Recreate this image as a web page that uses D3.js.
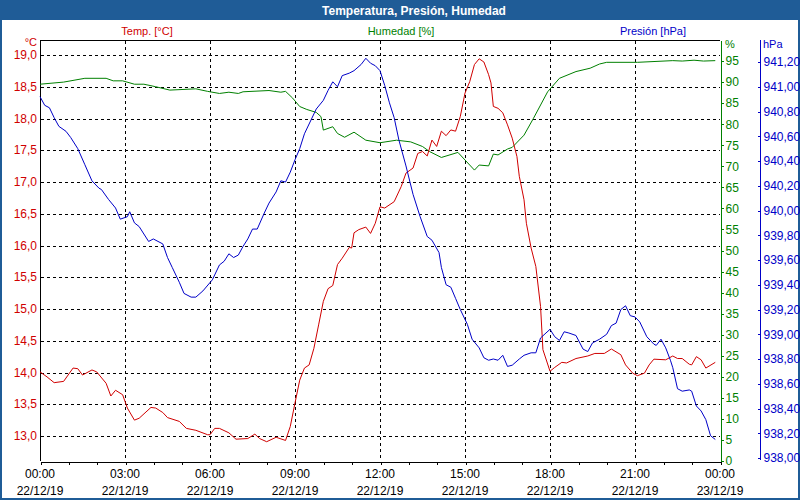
<!DOCTYPE html>
<html>
<head>
<meta charset="utf-8">
<script src="https://cdn.jsdelivr.net/npm/d3@7"></script>
<style>
  body { margin: 0; background: #fff; }
  svg { display: block; font-family: 'Liberation Sans', Arial, sans-serif; }
</style>
</head>
<body>
<svg id="canvas" width="800" height="500"></svg>
<script>
// minutes since 00:00 22/12/19
let tempMin = [0, 15, 30, 50, 70, 80, 90, 110, 120, 140, 150, 160, 175, 185, 200, 210, 235, 245, 260, 270, 295, 310, 330, 355, 360, 370, 380, 400, 415, 440, 455, 465, 480, 500, 520, 530, 540, 550, 560, 570, 580, 590, 600, 610, 620, 630, 640, 655, 660, 665, 675, 690, 700, 710, 720, 730, 750, 765, 775, 790, 800, 810, 820, 830, 840, 850, 860, 870, 880, 890, 900, 910, 920, 930, 940, 950, 955, 960, 970, 980, 990, 1000, 1010, 1015, 1025, 1030, 1040, 1050, 1060, 1065, 1080, 1090, 1105, 1115, 1135, 1160, 1175, 1195, 1210, 1230, 1240, 1255, 1265, 1280, 1290, 1300, 1325, 1340, 1350, 1360, 1375, 1380, 1390, 1400, 1410, 1430]
let tempVal = [14.01, 13.93, 13.84, 13.86, 14.07, 14.06, 13.96, 14.04, 14.01, 13.83, 13.63, 13.72, 13.65, 13.44, 13.25, 13.28, 13.45, 13.44, 13.37, 13.29, 13.23, 13.12, 13.09, 13.02, 13.02, 13.12, 13.12, 13.05, 12.95, 12.96, 13.03, 12.96, 12.91, 12.98, 12.93, 13.15, 13.52, 13.88, 14.07, 14.12, 14.38, 14.75, 15.12, 15.32, 15.37, 15.70, 15.80, 15.97, 15.96, 16.20, 16.25, 16.29, 16.19, 16.35, 16.61, 16.59, 16.69, 16.93, 17.14, 17.22, 17.45, 17.48, 17.41, 17.66, 17.56, 17.80, 17.73, 17.82, 17.80, 18.03, 18.40, 18.58, 18.85, 18.94, 18.89, 18.69, 18.56, 18.19, 18.16, 18.09, 17.90, 17.69, 17.40, 17.09, 16.72, 16.35, 15.96, 15.67, 15.04, 14.36, 14.02, 14.08, 14.16, 14.15, 14.22, 14.26, 14.30, 14.30, 14.37, 14.28, 14.12, 13.99, 13.95, 13.99, 14.12, 14.21, 14.20, 14.26, 14.22, 14.22, 14.13, 14.12, 14.25, 14.20, 14.07, 14.16]

let humMin = [0, 50, 95, 140, 155, 175, 200, 220, 245, 275, 330, 355, 380, 400, 420, 430, 485, 510, 520, 535, 550, 565, 585, 595, 600, 620, 630, 645, 665, 690, 720, 755, 785, 810, 825, 850, 885, 900, 920, 930, 950, 960, 970, 990, 1000, 1025, 1045, 1075, 1100, 1135, 1165, 1185, 1200, 1265, 1340, 1360, 1385, 1405, 1430]
let humVal = [89.5, 90.0, 90.9, 90.9, 90.3, 90.3, 89.5, 89.5, 88.9, 88.1, 88.4, 87.8, 87.3, 87.6, 87.3, 87.7, 88.0, 87.6, 87.8, 86.2, 84.2, 83.5, 82.8, 81.8, 78.6, 79.4, 77.8, 76.9, 78.1, 76.2, 75.6, 76.2, 75.8, 74.7, 73.5, 72.1, 73.3, 71.5, 69.1, 70.3, 70.1, 72.9, 72.7, 74.1, 74.5, 77.4, 81.4, 87.7, 90.9, 92.5, 93.3, 94.3, 94.7, 94.7, 95.1, 95.0, 95.2, 95.0, 95.1]

let presMin = [0, 10, 20, 30, 40, 55, 65, 80, 95, 110, 125, 130, 145, 160, 170, 185, 190, 200, 210, 220, 230, 240, 260, 270, 280, 295, 305, 320, 330, 345, 365, 380, 390, 400, 410, 420, 430, 440, 450, 460, 475, 485, 500, 510, 520, 530, 540, 550, 560, 575, 585, 600, 610, 620, 630, 640, 655, 665, 680, 690, 700, 710, 720, 730, 740, 750, 760, 775, 790, 805, 820, 830, 845, 850, 860, 870, 880, 890, 905, 915, 930, 940, 950, 960, 970, 980, 990, 1000, 1015, 1025, 1040, 1050, 1060, 1080, 1090, 1100, 1110, 1120, 1135, 1150, 1160, 1170, 1185, 1200, 1210, 1220, 1230, 1240, 1250, 1260, 1270, 1285, 1300, 1305, 1315, 1325, 1335, 1340, 1350, 1360, 1375, 1380, 1390, 1400, 1410, 1420, 1430]
let presVal = [940.92, 940.85, 940.83, 940.75, 940.68, 940.64, 940.59, 940.50, 940.37, 940.24, 940.18, 940.17, 940.09, 940.02, 939.93, 939.95, 939.99, 939.90, 939.87, 939.81, 939.75, 939.77, 939.73, 939.62, 939.54, 939.42, 939.33, 939.30, 939.30, 939.35, 939.44, 939.56, 939.59, 939.65, 939.62, 939.64, 939.71, 939.77, 939.85, 939.85, 939.98, 940.06, 940.15, 940.24, 940.23, 940.31, 940.41, 940.50, 940.62, 940.74, 940.82, 940.89, 940.97, 941.04, 941.00, 941.09, 941.11, 941.13, 941.18, 941.23, 941.19, 941.17, 941.13, 941.01, 940.87, 940.75, 940.57, 940.36, 940.13, 939.95, 939.79, 939.76, 939.66, 939.54, 939.40, 939.38, 939.29, 939.20, 939.08, 938.96, 938.89, 938.81, 938.79, 938.80, 938.79, 938.83, 938.74, 938.75, 938.80, 938.83, 938.85, 938.85, 938.97, 939.04, 938.98, 938.95, 939.02, 939.01, 938.99, 938.88, 938.86, 938.93, 938.96, 939.00, 939.07, 939.09, 939.20, 939.23, 939.15, 939.14, 939.10, 938.98, 938.92, 938.91, 938.96, 938.89, 938.79, 938.73, 938.56, 938.54, 938.55, 938.54, 938.42, 938.38, 938.31, 938.18, 938.15]

let tempTicks = [13, 13.5, 14, 14.5, 15, 15.5, 16, 16.5, 17, 17.5, 18, 18.5, 19]
let humTicks = [0, 5, 10, 15, 20, 25, 30, 35, 40, 45, 50, 55, 60, 65, 70, 75, 80, 85, 90, 95]
let presTicks = [938, 938.2, 938.4, 938.6, 938.8, 939, 939.2, 939.4, 939.6, 939.8, 940, 940.2, 940.4, 940.6, 940.8, 941, 941.2]
let hourLabels = ['00:00', '03:00', '06:00', '09:00', '12:00', '15:00', '18:00', '21:00', '00:00']
let dateLabels = ['22/12/19', '22/12/19', '22/12/19', '22/12/19', '22/12/19', '22/12/19', '22/12/19', '22/12/19', '23/12/19']

let frameBlue = '#1f5c97'
let red = '#d00000'
let green = '#008000'
let blue = '#0000c8'

let svg = d3.select('#canvas')

let x = d3.scaleLinear().domain([0, 1440]).range([40, 720])
let yT = d3.scaleLinear().domain([13, 19]).range([436, 55])
let yH = d3.scaleLinear().domain([0, 100]).range([461, 40])
let yP = d3.scaleLinear().domain([938, 941.2]).range([458, 62])

let comma = (f) => (v) => d3.format(f)(v).replace('.', ',')
let crisp = (v) => Math.round(v) + 0.5

// frame + title
svg.append('rect').attr('x', 0).attr('y', 0).attr('width', 800).attr('height', 500).attr('fill', '#fff')
svg.append('rect').attr('x', 0).attr('y', 0).attr('width', 800).attr('height', 20).attr('fill', frameBlue)
svg.append('rect').attr('x', 1).attr('y', 1).attr('width', 798).attr('height', 498)
    .attr('fill', 'none').attr('stroke', frameBlue).attr('stroke-width', 2)
svg.append('text').text('Temperatura, Presión, Humedad')
    .attr('x', 414).attr('y', 15).attr('text-anchor', 'middle')
    .attr('fill', '#fff').style('font-weight', 'bold').style('font-size', '12px')

let heads = [['Temp. [°C]', 147, red], ['Humedad [%]', 401, green], ['Presión [hPa]', 653, blue]]
heads.forEach((h) => {
    svg.append('text').text(h[0]).attr('x', h[1]).attr('y', 35)
        .attr('text-anchor', 'middle').attr('fill', h[2]).style('font-size', '11px')
})
svg.append('text').text('°C').attr('x', 37).attr('y', 46).attr('text-anchor', 'end').attr('fill', red).style('font-size', '11px')
svg.append('text').text('%').attr('x', 725).attr('y', 48).attr('fill', green).style('font-size', '11px')
svg.append('text').text('hPa').attr('x', 763).attr('y', 48).attr('fill', blue).style('font-size', '11px')

// grid
let grid = svg.append('g').attr('stroke', '#000').attr('stroke-dasharray', '3,3').attr('shape-rendering', 'crispEdges')
grid.selectAll('.h').data(tempTicks).enter().append('line')
    .attr('x1', 41).attr('x2', 720)
    .attr('y1', (d) => crisp(yT(d))).attr('y2', (d) => crisp(yT(d)))
grid.selectAll('.v').data([180, 360, 540, 720, 900, 1080, 1260]).enter().append('line')
    .attr('y1', 41).attr('y2', 461)
    .attr('x1', (d) => crisp(x(d))).attr('x2', (d) => crisp(x(d)))

// frame lines of plot
let box = svg.append('g').attr('stroke', '#000').attr('shape-rendering', 'crispEdges')
box.append('line').attr('x1', 40).attr('x2', 720).attr('y1', 40.5).attr('y2', 40.5)
box.append('line').attr('x1', 40.5).attr('x2', 40.5).attr('y1', 40).attr('y2', 461)

// x axis
let xAxis = d3.axisBottom(x).tickValues(d3.range(0, 1441, 60)).tickSize(3).tickSizeOuter(0).tickFormat('')
let gx = svg.append('g').attr('transform', 'translate(0.5,461.5)').call(xAxis)
gx.selectAll('path,line').attr('stroke', '#000').attr('shape-rendering', 'crispEdges')
hourLabels.forEach((lab, i) => {
    let t = svg.append('text').attr('text-anchor', 'middle').attr('fill', '#000').style('font-size', '12px')
    t.append('tspan').attr('x', x(i * 180)).attr('y', 478).text(lab)
    t.append('tspan').attr('x', x(i * 180)).attr('y', 495).text(dateLabels[i])
})

// left axis (temperature)
let gT = svg.append('g').attr('transform', 'translate(40,0)')
    .call(d3.axisLeft(yT).tickValues(tempTicks).tickSize(0).tickPadding(3).tickFormat(comma('.1f')))
gT.select('.domain').remove()
gT.selectAll('text').attr('fill', red).attr('dy', '0.3em').style('font-size', '12px').style('font-family', null)

// right axis (humidity)
let gH = svg.append('g').attr('transform', 'translate(720.5,0)')
    .call(d3.axisRight(yH).tickValues(humTicks).tickSize(3).tickSizeOuter(0).tickPadding(2))
gH.selectAll('path,line').attr('stroke', green).attr('shape-rendering', 'crispEdges')
gH.selectAll('text').attr('fill', green).style('font-size', '12px').style('font-family', null)

// far right axis (pressure)
let gP = svg.append('g').attr('transform', 'translate(760.5,0)')
    .call(d3.axisRight(yP).tickValues(presTicks).tickSize(-3).tickPadding(3).tickFormat(comma('.2f')))
gP.select('.domain').remove()
gP.append('line').attr('y1', 40).attr('y2', 460).attr('stroke', blue)
gP.selectAll('line').attr('stroke', blue).attr('shape-rendering', 'crispEdges')
gP.selectAll('text').attr('fill', blue).style('font-size', '12px').style('font-family', null)

// series
let draw = (mins, vals, y, color) => {
    let pts = mins.map((m, i) => [m, vals[i]])
    svg.append('path').datum(pts)
        .attr('fill', 'none').attr('stroke', color).attr('stroke-width', 1)
        .attr('d', d3.line().x((d) => x(d[0])).y((d) => y(d[1])))
}
draw(humMin, humVal, yH, green)
draw(tempMin, tempVal, yT, red)
draw(presMin, presVal, yP, blue)
</script>
</body>
</html>
